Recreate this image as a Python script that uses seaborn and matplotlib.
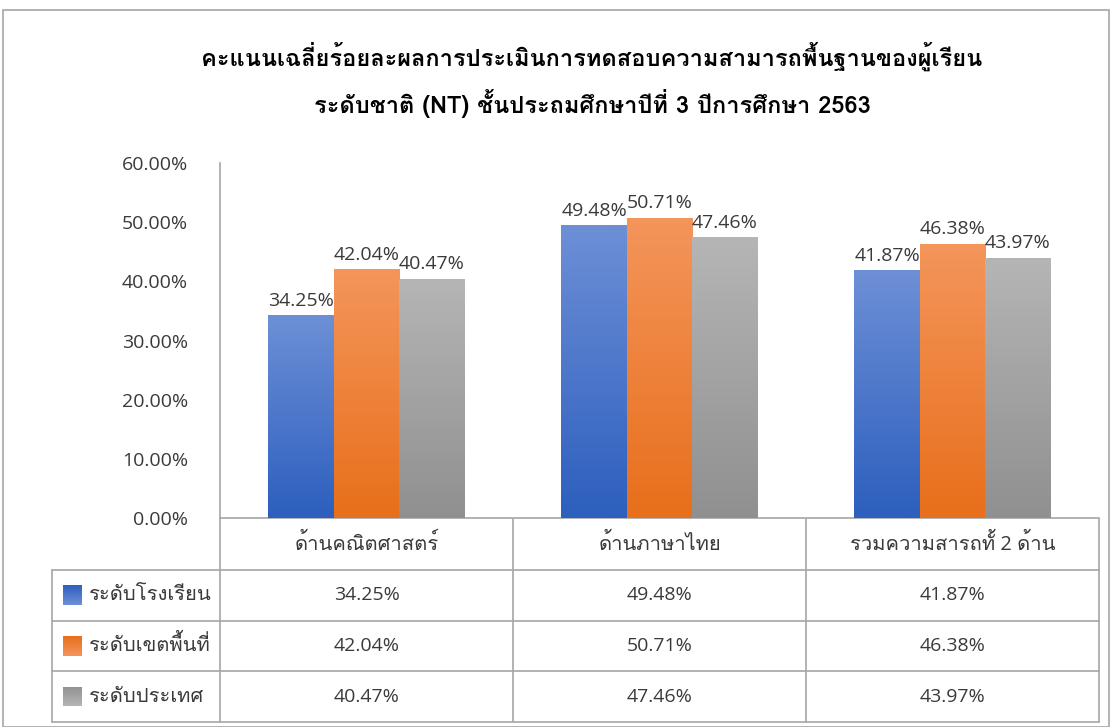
import numpy as np
import pandas as pd
import matplotlib
matplotlib.use("Agg")
import matplotlib.pyplot as plt
import seaborn as sns
from matplotlib.colors import LinearSegmentedColormap
from matplotlib.patches import Rectangle

# data
categories = ["ด้านคณิตศาสตร์", "ด้านภาษาไทย", "รวมความสารถทั้ 2 ด้าน"]
levels = ["ระดับโรงเรียน", "ระดับเขตพื้นที่", "ระดับประเทศ"]
school = [34.25, 49.48, 41.87]
district = [42.04, 50.71, 46.38]
country = [40.47, 47.46, 43.97]
yticks = [0, 10, 20, 30, 40, 50, 60]
title = ("คะแนนเฉลี่ยร้อยละผลการประเมินการทดสอบความสามารถพื้นฐานของผู้เรียน\n"
         "ระดับชาติ (NT) ชั้นประถมศึกษาปีที่ 3 ปีการศึกษา 2563")

# colours: (top, bottom) of each gradient
grad = [("#6d8fd6", "#2d5fbe"), ("#f4955b", "#e86f1b"), ("#b5b5b5", "#909090")]
text_col = "#3a3a3a"
line_col = "#a6a6a6"
fs = 14

sns.set_style("white")
# latin from Open Sans, thai glyphs fall back to Loma
plt.rcParams["font.family"] = ["Open Sans", "Loma", "DejaVu Sans"]

df = pd.DataFrame({
    "category": categories * 3,
    "level": [levels[0]] * 3 + [levels[1]] * 3 + [levels[2]] * 3,
    "value": school + district + country,
})

W, H = 1114, 727
fig = plt.figure(figsize=(W / 100, H / 100), dpi=100)
ax = fig.add_axes([220 / W, 1 - 518 / H, 879 / W, 355 / H])

sns.barplot(data=df, x="category", y="value", hue="level", hue_order=levels,
            palette=[g[1] for g in grad], width=0.67, legend=False, ax=ax)


def gradient_fill(a, patch, top, bottom, z=3):
    x, y = patch.get_x(), patch.get_y()
    w, h = patch.get_width(), patch.get_height()
    cmap = LinearSegmentedColormap.from_list("g", [bottom, top])
    g = np.linspace(0, 1, 100).reshape(-1, 1)
    im = a.imshow(g, extent=[x, x + w, y, y + h], origin="lower",
                  aspect="auto", cmap=cmap, zorder=z)
    im.set_clip_path(patch)


for i, cont in enumerate(ax.containers):
    for p in cont.patches:
        gradient_fill(ax, p, grad[i][0], grad[i][1])
    ax.bar_label(cont, labels=[f"{v:.2f}%" for v in cont.datavalues],
                 padding=4, fontsize=fs, color=text_col)

ax.set_xlim(-0.5, 2.5)
ax.set_ylim(0, 60)
ax.set_yticks(yticks)
ax.set_yticklabels([f"{t:.2f}%" for t in yticks], fontsize=fs, color=text_col)
ax.tick_params(axis="y", length=0, pad=23)
ax.set_xticks([])
ax.set_xlabel("")
ax.set_ylabel("")
for s in ["top", "right"]:
    ax.spines[s].set_visible(False)
for s in ["left", "bottom"]:
    ax.spines[s].set_color(line_col)
    ax.spines[s].set_linewidth(1.2)

# data table under the chart
tab = fig.add_axes([52 / W, 1 - 722 / H, 1047 / W, 203 / H])
left = -0.5 - 168 / 293
tab.axis("off")
for k in range(4):
    tab.plot([-0.5 + k, -0.5 + k], [0, 4], color=line_col, lw=1.2, clip_on=False)
for r in [1, 2, 3, 4]:
    tab.plot([left, 2.5], [r, r], color=line_col, lw=1.2, clip_on=False)
tab.plot([left, left], [1, 4], color=line_col, lw=1.2, clip_on=False)

for j, c in enumerate(categories):
    tab.text(j, 0.5, c, ha="center", va="center", fontsize=fs + 0.5, color=text_col)
series = [school, district, country]
for i, lev in enumerate(levels):
    for j, v in enumerate(series[i]):
        tab.text(j, i + 1.5, f"{v:.2f}%", ha="center", va="center",
                 fontsize=fs, color=text_col)
    sq = Rectangle((left + 11 / 293, i + 1.5 - 0.19), 19 / 293, 0.38,
                   facecolor=grad[i][1], edgecolor="none")
    tab.add_patch(sq)
    gradient_fill(tab, sq, grad[i][0], grad[i][1])
    tab.text(left + 37 / 293, i + 1.5, lev, ha="left", va="center",
             fontsize=fs + 0.5, color=text_col)
tab.set_xlim(left, 2.5)
tab.set_ylim(4, 0)

fig.text(592 / W, 1 - 80 / H, title, ha="center", va="center", fontsize=17,
         fontweight="bold", color="black", linespacing=1.75,
         family=["Loma", "DejaVu Sans"])

fig.add_artist(Rectangle((3 / W, 0), 1106 / W, 1 - 10 / H, transform=fig.transFigure,
                         fill=False, edgecolor=line_col, lw=1.2))

fig.savefig("out.png", dpi=100)
